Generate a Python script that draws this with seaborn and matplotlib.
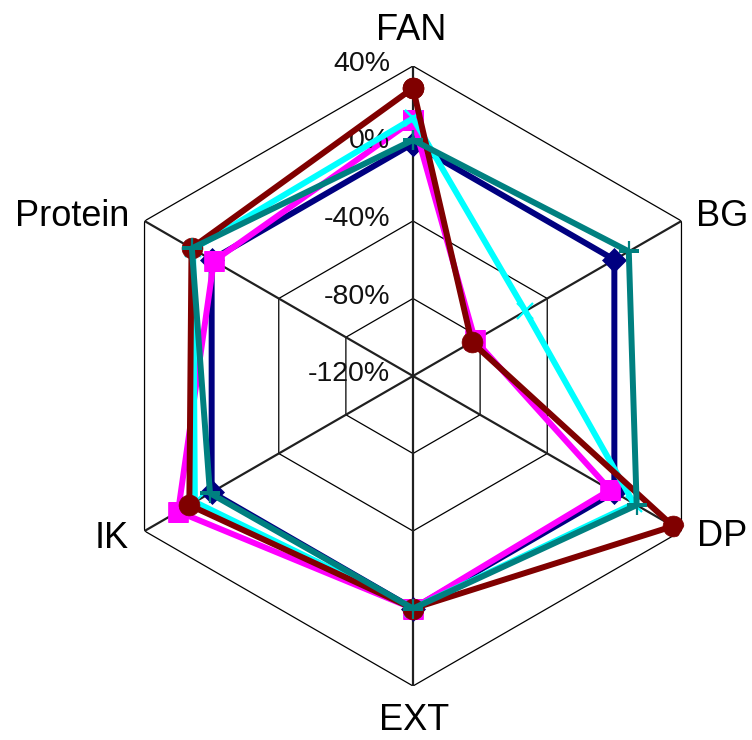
import numpy as np
import pandas as pd
import matplotlib
matplotlib.use("Agg")
import matplotlib.pyplot as plt
import seaborn as sns

# ---- data ----
categories = ["FAN", "BG", "DP", "EXT", "IK", "Protein"]
ring_values = [-120, -80, -40, 0, 40]
ring_labels = ["-120%", "-80%", "-40%", "0%", "40%"]

navy_vals = [0, 0, 0, 0, 0, 0]
magenta_vals = [12, -83, -2.5, 0, 20, -1.3]
cyan_vals = [13, -53, 11.7, 0, 10, 11]
darkred_vals = [28.6, -85, 35, 0, 13.3, 12]
teal_vals = [1.8, 8.6, 13.3, 0, 1, 11.8]

series = [
    ("navy", navy_vals, "#000080", "D", 12),
    ("magenta", magenta_vals, "#FF00FF", "s", 14),
    ("cyan", cyan_vals, "#00FFFF", "x", 12),
    ("darkred", darkred_vals, "#800000", "o", 15),
    ("teal", teal_vals, "#008080", "+", 15),
]

sns.set_style("white")
plt.rcParams["font.family"] = ["Liberation Sans", "DejaVu Sans"]

W, H = 752, 740
fig = plt.figure(figsize=(W / 100, H / 100), dpi=100)
cx, cy, R = 413, 376, 310
ax = fig.add_axes([(cx - R) / W, (H - cy - R) / H, 2 * R / W, 2 * R / H],
                  projection="polar")
ax.set_theta_zero_location("N")
ax.set_theta_direction(-1)
ax.set_ylim(ring_values[0], ring_values[-1])
ax.grid(False)
ax.set_xticks([])
ax.set_yticks([])
ax.spines["polar"].set_visible(False)
ax.patch.set_alpha(0)

n = len(categories)
theta = [2 * np.pi * i / n for i in range(n)]
theta_closed = theta + [2 * np.pi]

# hexagonal grid
for rv in ring_values[1:]:
    ax.plot(theta_closed, [rv] * (n + 1), color="black", lw=0.9, zorder=1)
for th in theta:
    ax.plot([th, th], [ring_values[0], ring_values[-1]], color="#202020",
            lw=1.6, zorder=1)

# ring labels
for rv, lab in zip(ring_values, ring_labels):
    ax.annotate(lab, xy=(0, rv), xytext=(-23, 2), textcoords="offset pixels",
                ha="right", va="center", fontsize=20.5, color="#111111",
                zorder=5)

# series
for i, (name, vals, col, mk, ms) in enumerate(series):
    df = pd.DataFrame({"theta": theta_closed, "value": list(vals) + [vals[0]]})
    mew = 1.6 if mk in ("x", "+") else 0.5
    sns.lineplot(data=df, x="theta", y="value", sort=False, estimator=None,
                 ax=ax, color=col, linewidth=4.3, marker=mk, markersize=ms,
                 markeredgecolor=col, markerfacecolor=col,
                 markeredgewidth=mew, zorder=3 + i)

ax.set_xlabel("")
ax.set_ylabel("")

# category labels
label_pos = {
    "FAN": (411, 30),
    "BG": (722, 216),
    "DP": (722, 536),
    "EXT": (414, 721),
    "IK": (112, 538),
    "Protein": (72, 217),
}
for cat in categories:
    x, y = label_pos[cat]
    fig.text(x / W, 1 - y / H, cat, ha="center", va="center", fontsize=26,
             color="black")

fig.savefig("out.png", dpi=100)
